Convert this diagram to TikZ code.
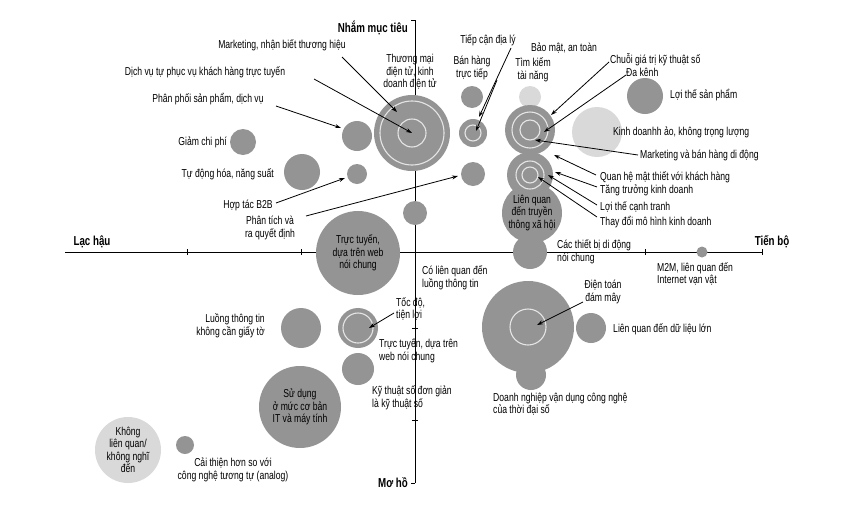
\documentclass[tikz,border=0pt]{standalone}
\usepackage{fontspec}
\setmainfont{Liberation Sans}[FakeStretch=0.75]
\usetikzlibrary{arrows.meta,calc}
\begin{document}
\begin{tikzpicture}[x=1pt,y=-1pt,
  dk/.style={circle,fill=black!42,draw=none,inner sep=0,minimum size=#1},
  lt/.style={circle,fill=black!15,draw=none,inner sep=0,minimum size=#1},
  ring/.style={draw=black!10,line width=1.1pt},
  lbl/.style={font=\fontsize{11.5}{12.5}\selectfont,inner sep=0,align=center},
  lbll/.style={lbl,anchor=west,align=left},
  lblr/.style={lbl,anchor=east,align=right},
  ttl/.style={font=\fontsize{13}{14}\selectfont\bfseries,inner sep=0},
  ar/.style={-{Stealth[length=6pt,width=4pt]},line width=0.8pt},
  ax/.style={line width=1pt}]
\useasboundingbox (0,0) rectangle (854,517);
% axes
\coordinate (L) at (65,252); \coordinate (R) at (762,252);
\coordinate (T) at (415,20); \coordinate (B) at (415,483);
\draw[ax] (L) -- (R);
\draw[ax] (T) -- (B);
\foreach \x in {187,301,645,762} \draw (\x,249) -- (\x,255);
\foreach \y in {328,420} \draw (412,\y) -- (418,\y);
\draw[ax] (T) -- (411,20); \draw[ax] (B) -- (411,483);
\node[ttl] (lh) at (92,242) {Lạc hậu};
\node[ttl] (tb) at (772,242) {Tiến bộ};
\node[ttl,anchor=east] (nm) at (408,28) {Nhắm mục tiêu};
\node[ttl,anchor=east] (mh) at (408,483) {Mơ hồ};
% circles
\node[dk=76] (ec) at (412,133) {};
\draw[ring] (ec) circle (32); \draw[ring] (ec) circle (14);
\node[dk=22] (bh) at (472,97) {};
\node[dk=28] (rg) at (473,133) {};
\draw[ring] (rg) circle (8);
\node[dk=24] (c3) at (473,174) {};
\node[dk=24] (c4) at (415,213) {};
\node[lt=22] (tk) at (530,97) {};
\node[lt=50] (ka) at (597,132) {};
\node[dk=36] (ls) at (645,96) {};
\node[dk=60] (sx) at (532,213) {};
\node[dk=34] (dd) at (530,252) {};
\node[dk=50] (cv) at (530,130) {};
\draw[ring] (cv) circle (18); \draw[ring] (cv) circle (10);
\node[dk=46] (c2) at (530,175) {};
\draw[ring] (c2) circle (14); \draw[ring] (c2) circle (8);
\node[dk=30] (dn) at (531,375) {};
\node[dk=30] (bd) at (591,328) {};
\node[dk=92] (cl) at (528,327) {};
\draw[ring] (cl) circle (18);
\node[dk=11] (m2) at (702,252) {};
\node[dk=26] (gc) at (243,142) {};
\node[dk=36] (td) at (302,172) {};
\node[dk=30] (pp) at (357,136) {};
\node[dk=20] (hb) at (357,174) {};
\node[dk=84,lbl] (tt) at (358,253) {Trực tuyến,\\dựa trên web\\nói chung};
\node[dk=40] (lt) at (301,328) {};
\node[dk=40] (td2) at (358,328) {};
\draw[ring] (td2) circle (15);
\node[dk=32] (tw) at (358,369) {};
\node[dk=82,lbl] (sd) at (300,407) {Sử dụng\\ở mức cơ bản\\IT và máy tính};
\node[lt=66,lbl] (kl) at (128,450) {Không\\liên quan/\\không nghĩ\\đến};
\node[dk=18] (cs) at (185,445) {};
\node[lbl] (sxt) at (532,213) {Liên quan\\đến truyền\\thông xã hội};
% labels
\node[lbl] (l1) at (282,45) {Marketing, nhận biết thương hiệu};
\node[lbl] (l2) at (205,72) {Dịch vụ tự phục vụ khách hàng trực tuyến};
\node[lbl] (l3) at (208,99) {Phân phối sản phẩm, dịch vụ};
\node[lblr] (l4) at (227,142) {Giảm chi phí};
\node[lblr] (l5) at (274,174) {Tự động hóa, năng suất};
\node[lbl] (l6) at (248,205) {Hợp tác B2B};
\node[lbl] (l7) at (270,228) {Phân tích và\\ra quyết định};
\node[lbl] (l8) at (410,72) {Thương mại\\điện tử, kinh\\doanh điện tử};
\node[lbl] (l9) at (488,40) {Tiếp cận địa lý};
\node[lbl] (l10) at (472,68) {Bán hàng\\trực tiếp};
\node[lbl] (l11) at (564,48) {Bảo mật, an toàn};
\node[lbl] (l12) at (533,70) {Tìm kiếm\\tài năng};
\node[lbll] (l13) at (610,60) {Chuỗi giá trị kỹ thuật số};
\node[lbll] (l14) at (626,72) {Đa kênh};
\node[lbll] (l15) at (670,95) {Lợi thế sản phẩm};
\node[lbll] (l16) at (613,132) {Kinh doanhh ảo, không trọng lượng};
\node[lbll] (l17) at (640,155) {Marketing và bán hàng di động};
\node[lbll] (l18) at (600,177) {Quan hệ mật thiết với khách hàng};
\node[lbll] (l19) at (600,190) {Tăng trưởng kinh doanh};
\node[lbll] (l20) at (600,207) {Lợi thế cạnh tranh};
\node[lbll] (l21) at (600,222) {Thay đổi mô hình kinh doanh};
\node[lbll] (l22) at (557,252) {Các thiết bị di động\\nói chung};
\node[lbll] (l23) at (657,274) {M2M, liên quan đến\\Internet vạn vật};
\node[lbll] (l24) at (422,278) {Có liên quan đến\\luồng thông tin};
\node[lbl] (l25) at (603,292) {Điện toán\\đám mây};
\node[lbll] (l26) at (613,329) {Liên quan đến dữ liệu lớn};
\node[lbll] (l27) at (493,404) {Doanh nghiệp vận dụng công nghệ\\của thời đại số};
\node[lbll] (l28) at (396,309) {Tốc độ,\\tiện lợi};
\node[lbll] (l29) at (379,351) {Trực tuyến, dựa trên\\web nói chung};
\node[lbll] (l30) at (372,398) {Kỹ thuật số đơn giản\\là kỹ thuật số};
\node[lblr] (l31) at (265,326) {Luồng thông tin\\không cần giấy tờ};
\node[lbl] (l32) at (233,470) {Cải thiện hơn so với\\công nghệ tương tự (analog)};
% arrow start coordinates
\coordinate (s1) at (342,57);
\coordinate (s2) at (314,79);
\coordinate (s3) at (276,106);
\coordinate (s6) at (276,203);
\coordinate (s7) at (306,216);
\coordinate (s9) at (511,48);
\coordinate (s10) at (497,80);
\coordinate (s13) at (609,62);
\coordinate (s14) at (626,75);
\coordinate (s17) at (638,155);
\coordinate (s18) at (596,175);
\coordinate (s19) at (597,187);
\coordinate (s20) at (597,205);
\coordinate (s21) at (597,217);
\coordinate (s25) at (583,302);
\coordinate (s28) at (394,313);
% arrows
\draw[ar] (s1) -- ($(ec)+(-15,-21)$);
\draw[ar] (s2) -- (ec.center);
\draw[ar] (s3) -- ($(pp)+(-16,-8)$);
\draw[ar] (s6) -- ($(hb)+(-12,4)$);
\draw[ar] (s7) -- ($(c3)+(-15,2)$);
\draw[ar] (s9) -- ($(rg)+(6,-16)$);
\draw[ar] (s10) -- ($(rg)+(3,-2)$);
\draw[ar] (s13) -- ($(cv)+(21,-15)$);
\draw[ar] (s14) -- ($(cv)+(14,2)$);
\draw[ar] (s17) -- ($(cv)+(5,10)$);
\draw[ar] (s18) -- ($(c2)+(24,-20)$);
\draw[ar] (s19) -- ($(c2)+(25,-3)$);
\draw[ar] (s20) -- ($(c2)+(18,0)$);
\draw[ar] (s21) -- ($(c2)+(8,2)$);
\draw[ar] (s25) -- ($(cl)+(9,-2)$);
\draw[ar] (s28) -- ($(td2)+(11,0)$);
\end{tikzpicture}
\end{document}
